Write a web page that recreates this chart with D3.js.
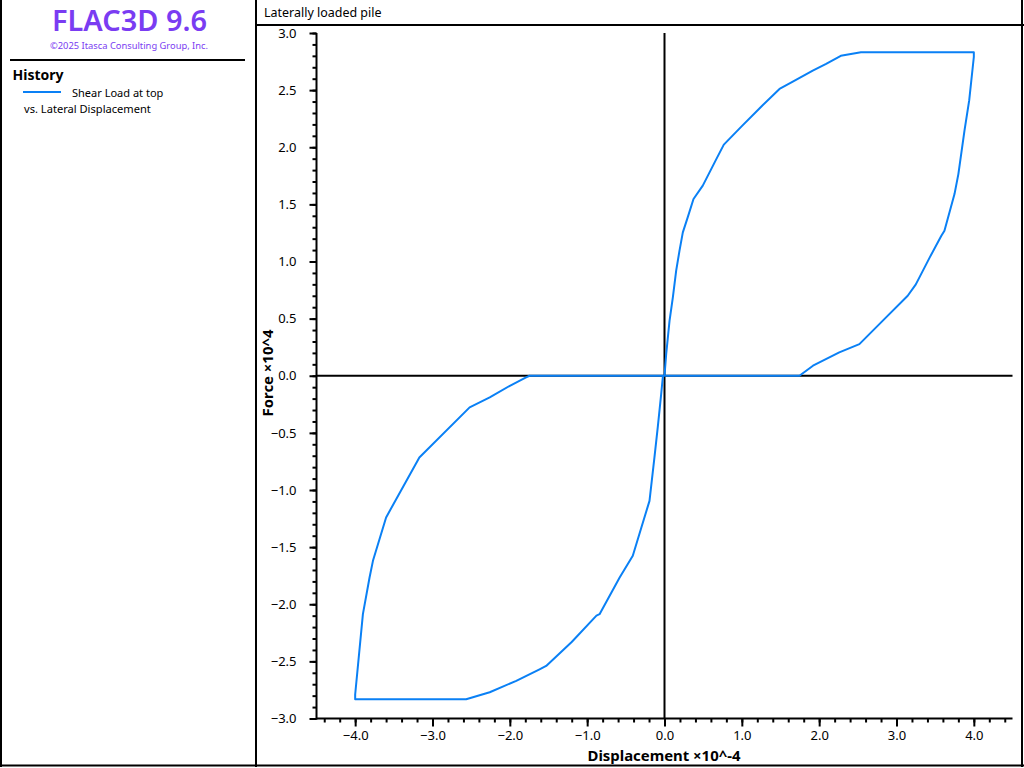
<!DOCTYPE html>
<html>
<head>
<meta charset="utf-8">
<script src="https://cdn.jsdelivr.net/npm/d3@7"></script>
<style>
  html, body { margin: 0; padding: 0; background: #fff; }
  svg { display: block; font-family: "Noto Sans", sans-serif; }
</style>
</head>
<body>
<svg id="chart" width="1024" height="768"></svg>
<script>
// ---- data (displacement in 1e-4, force in 1e4) ----
const dispX = [
  0.000, 0.022, 0.065, 0.108, 0.151, 0.194, 0.237, 0.300, 0.375, 0.495, 0.660, 0.767,
  1.000, 1.250, 1.487, 1.659, 1.917, 2.090, 2.280, 2.540, 3.000, 3.500, 4.000,
  4.000, 3.940, 3.880, 3.800, 3.750, 3.620, 3.580, 3.430, 3.250, 3.145, 2.820, 2.520,
  2.260, 1.920, 1.745, 1.000, 0.000,
  -0.020, -0.043, -0.087, -0.130, -0.194, -0.300, -0.410, -0.580, -0.840, -0.880,
  -1.200, -1.530, -1.616, -1.917, -2.260, -2.565, -3.000, -3.500, -4.000,
  -4.000, -3.900, -3.814, -3.770, -3.600, -3.170, -2.520, -2.260, -2.000, -1.790, -1.745,
  -1.000, 0.000
];
const forceY = [
  0.000, 0.190, 0.480, 0.686, 0.920, 1.095, 1.255, 1.386, 1.547, 1.664, 1.883, 2.023,
  2.185, 2.355, 2.510, 2.574, 2.671, 2.730, 2.800, 2.832, 2.832, 2.832, 2.832,
  2.790, 2.410, 2.150, 1.765, 1.590, 1.270, 1.225, 1.036, 0.800, 0.700, 0.480, 0.277,
  0.204, 0.088, 0.000, 0.000, 0.000,
  0.000, -0.160, -0.450, -0.715, -1.095, -1.330, -1.576, -1.766, -2.087, -2.100,
  -2.330, -2.540, -2.570, -2.670, -2.770, -2.832, -2.832, -2.832, -2.832,
  -2.790, -2.087, -1.766, -1.620, -1.240, -0.715, -0.277, -0.190, -0.088, -0.015, 0.000,
  0.000, 0.000
];
const xTickValues = [-4, -3, -2, -1, 0, 1, 2, 3, 4];
const yTickValues = [-3, -2.5, -2, -1.5, -1, -0.5, 0, 0.5, 1, 1.5, 2, 2.5, 3];
const xMinorStep = 0.2;
const yMinorStep = 0.1;

const chartTitle = "Laterally loaded pile";
const xTitle = "Displacement \u00d710^-4";
const yTitle = "Force \u00d710^4";
const appTitle = "FLAC3D 9.6";
const copyright = "\u00a92025 Itasca Consulting Group, Inc.";
const legendHeader = "History";
const legendLine1 = "Shear Load at top";
const legendLine2 = "vs. Lateral Displacement";

const curveColor = "#0a80f5";
const purple = "#7a3cf2";

const svg = d3.select("#chart");

// scale a text's font size so that it spans the wanted width
function fit(sel, width) {
  const fs = +sel.attr("font-size");
  const w = sel.node().getComputedTextLength();
  if (w > 0) sel.attr("font-size", (fs * width / w).toFixed(2));
  return sel;
}

// ---- scales ----
const x = d3.scaleLinear().domain([-4.5, 4.5]).range([316.5, 1012.5]);
const y = d3.scaleLinear().domain([-3, 3]).range([718.5, 33]);

// ---- frame ----
const frame = svg.append("g").attr("stroke", "#000").attr("stroke-width", 2);
frame.append("line").attr("x1", 1).attr("y1", 0).attr("x2", 1).attr("y2", 767);
frame.append("line").attr("x1", 0).attr("y1", 765.5).attr("x2", 1024).attr("y2", 765.5);
frame.append("line").attr("x1", 1022).attr("y1", 0).attr("x2", 1022).attr("y2", 767);
frame.append("line").attr("x1", 256).attr("y1", 0).attr("x2", 256).attr("y2", 767);
frame.append("line").attr("x1", 256).attr("y1", 25).attr("x2", 1024).attr("y2", 25);

// ---- left panel ----
fit(svg.append("text").attr("x", 129.5).attr("y", 31).attr("text-anchor", "middle")
  .attr("font-size", 28).attr("font-weight", 600).attr("fill", purple).text(appTitle), 155);
fit(svg.append("text").attr("x", 129).attr("y", 49).attr("text-anchor", "middle")
  .attr("font-size", 9).attr("fill", purple).text(copyright), 158);
svg.append("line").attr("x1", 10).attr("x2", 245).attr("y1", 60).attr("y2", 60)
  .attr("stroke", "#000").attr("stroke-width", 2);
fit(svg.append("text").attr("x", 12.5).attr("y", 80).attr("font-size", 14)
  .attr("font-weight", "bold").attr("fill", "#000").text(legendHeader), 51);
svg.append("line").attr("x1", 23).attr("x2", 61).attr("y1", 92).attr("y2", 92)
  .attr("stroke", curveColor).attr("stroke-width", 2);
fit(svg.append("text").attr("x", 72).attr("y", 97).attr("font-size", 12).text(legendLine1), 91.5);
fit(svg.append("text").attr("x", 24).attr("y", 113).attr("font-size", 12).text(legendLine2), 127);

// ---- chart title ----
fit(svg.append("text").attr("x", 264).attr("y", 17).attr("font-size", 12).text(chartTitle), 117.5);

// ---- zero lines ----
svg.append("line").attr("x1", x(-4.5)).attr("x2", x(4.5)).attr("y1", y(0)).attr("y2", y(0))
  .attr("stroke", "#000").attr("stroke-width", 2);
svg.append("line").attr("x1", x(0)).attr("x2", x(0)).attr("y1", y(3)).attr("y2", y(-3))
  .attr("stroke", "#000").attr("stroke-width", 2);

// ---- axes ----
const fmt = d3.format(".1f");
const xMinor = d3.range(-4.4, 4.5, xMinorStep).map(v => +v.toFixed(1));
const yMinor = d3.range(-3, 3.05, yMinorStep).map(v => +v.toFixed(1));

const gxMinor = svg.append("g").attr("transform", `translate(0,${y(-3)})`)
  .call(d3.axisBottom(x).tickValues(xMinor).tickSize(4).tickFormat(""));
const gx = svg.append("g").attr("transform", `translate(0,${y(-3)})`)
  .call(d3.axisBottom(x).tickValues(xTickValues).tickSize(8).tickPadding(4).tickFormat(fmt));
const gyMinor = svg.append("g").attr("transform", `translate(${x(-4.5)},0)`)
  .call(d3.axisLeft(y).tickValues(yMinor).tickSize(4).tickFormat(""));
const gy = svg.append("g").attr("transform", `translate(${x(-4.5)},0)`)
  .call(d3.axisLeft(y).tickValues(yTickValues).tickSize(7).tickPadding(13).tickFormat(fmt));

[gxMinor, gx, gyMinor, gy].forEach(g => {
  g.select(".domain").remove();
  g.selectAll(".tick line").attr("stroke", "#000").attr("stroke-width", 2);
  g.selectAll("text").attr("font-family", "Noto Sans, sans-serif").attr("font-size", 13).attr("fill", "#000");
});

// axis lines
svg.append("line").attr("x1", x(-4.5)).attr("x2", x(-4.5)).attr("y1", y(3)).attr("y2", y(-3) + 1)
  .attr("stroke", "#000").attr("stroke-width", 2);
svg.append("line").attr("x1", x(-4.5)).attr("x2", x(4.5)).attr("y1", y(-3)).attr("y2", y(-3))
  .attr("stroke", "#000").attr("stroke-width", 2);

// axis titles
const xt = fit(svg.append("text").attr("x", 664).attr("y", 761).attr("text-anchor", "middle")
  .attr("font-size", 13).attr("font-weight", "bold").text(xTitle), 153);
svg.append("text").attr("transform", `translate(273,373) rotate(-90)`).attr("text-anchor", "middle")
  .attr("font-size", xt.attr("font-size")).attr("font-weight", "bold").text(yTitle);

// ---- curve ----
const pts = dispX.map((d, i) => [d, forceY[i]]);
svg.append("path").datum(pts)
  .attr("fill", "none").attr("stroke", curveColor).attr("stroke-width", 2)
  .attr("stroke-linejoin", "round")
  .attr("d", d3.line().x(d => x(d[0])).y(d => y(d[1])));
</script>
</body>
</html>
